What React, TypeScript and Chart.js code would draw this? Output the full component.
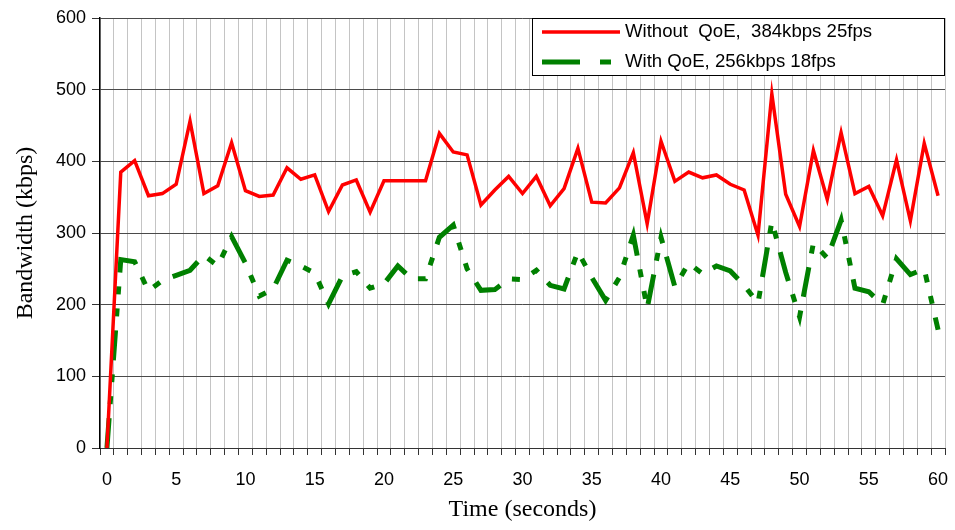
import React, { useEffect, useRef } from 'react';
import { Chart, registerables } from 'chart.js';

Chart.register(...registerables);

const timeLabels = [
  0, 1, 2, 3, 4, 5, 6, 7, 8, 9, 10, 11, 12, 13, 14, 15, 16, 17, 18, 19, 20,
  21, 22, 23, 24, 25, 26, 27, 28, 29, 30, 31, 32, 33, 34, 35, 36, 37, 38, 39, 40,
  41, 42, 43, 44, 45, 46, 47, 48, 49, 50, 51, 52, 53, 54, 55, 56, 57, 58, 59, 60,
];

const withoutQoE = [
  0, 385, 401, 352, 355, 368, 456, 355, 366, 426, 359, 351, 353, 391, 375, 381,
  330, 367, 374, 329, 373, 373, 373, 373, 439, 413, 409, 339, 360, 379, 355,
  379, 338, 362, 418, 343, 342, 363, 412, 313, 428, 372, 385, 377, 381, 368,
  360, 297, 494, 354, 309, 415, 347, 440, 355, 365, 324, 402, 317, 425, 352,
];

const withQoE = [
  0, 263, 260, 219, 234, 241, 248, 269, 254, 295, 258, 212, 222, 262, 254, 244,
  201, 240, 246, 223, 229, 254, 236, 236, 294, 311, 250, 220, 221, 236, 235,
  248, 227, 222, 274, 238, 206, 238, 297, 195, 294, 225, 258, 243, 254, 247,
  227, 202, 316, 245, 183, 286, 265, 318, 223, 218, 200, 264, 242, 250, 165,
];

const seriesNames = ['Without  QoE,  384kbps 25fps', 'With QoE, 256kbps 18fps'];
const yMin = 0;
const yMax = 600;
const yStep = 100;

const RED = '#ff0000';
const GREEN = '#008000';
const GREEN_DASH = [30, 14, 8, 14, 8, 14];

export default function App() {
  const ref = useRef<HTMLCanvasElement | null>(null);

  useEffect(() => {
    if (!ref.current) return;

    const legendPlugin = {
      id: 'boxLegend',
      afterDraw(chart: any) {
        const ctx = chart.ctx as CanvasRenderingContext2D;
        ctx.save();
        ctx.fillStyle = '#ffffff';
        ctx.fillRect(532, 18, 412, 57);
        ctx.strokeStyle = '#000000';
        ctx.lineWidth = 1;
        ctx.strokeRect(532.5, 18.5, 412, 57);

        // red sample
        ctx.strokeStyle = RED;
        ctx.lineWidth = 3.5;
        ctx.setLineDash([]);
        ctx.beginPath();
        ctx.moveTo(542, 32);
        ctx.lineTo(620, 32);
        ctx.stroke();

        // green sample
        ctx.strokeStyle = GREEN;
        ctx.lineWidth = 5;
        ctx.setLineDash([38, 20, 11, 20]);
        ctx.beginPath();
        ctx.moveTo(542, 62);
        ctx.lineTo(620, 62);
        ctx.stroke();
        ctx.setLineDash([]);

        ctx.fillStyle = '#000000';
        ctx.font = '18.6px "Liberation Sans", Arial, sans-serif';
        ctx.textBaseline = 'middle';
        ctx.textAlign = 'left';
        ctx.fillText(seriesNames[0], 625, 32);
        ctx.fillText(seriesNames[1], 625, 62);
        ctx.restore();
      },
    };

    const chart = new Chart(ref.current, {
      type: 'line',
      data: {
        labels: timeLabels.map(String),
        datasets: [
          {
            label: seriesNames[0],
            data: withoutQoE,
            borderColor: RED,
            backgroundColor: RED,
            borderWidth: 3.5,
            pointRadius: 0,
            tension: 0,
            fill: false,
          },
          {
            label: seriesNames[1],
            data: withQoE,
            borderColor: GREEN,
            backgroundColor: GREEN,
            borderWidth: 5,
            borderDash: GREEN_DASH,
            borderCapStyle: 'butt',
            pointRadius: 0,
            tension: 0,
            fill: false,
          },
        ],
      },
      options: {
        animation: false,
        responsive: false,
        maintainAspectRatio: false,
        layout: { padding: { top: 18, right: 10, left: 0, bottom: 0 } },
        plugins: {
          legend: { display: false },
          tooltip: { enabled: false },
        },
        scales: {
          x: {
            type: 'category',
            offset: true,
            grid: {
              offset: true,
              color: '#c4c4c4',
              lineWidth: 1,
              tickColor: '#333333',
              tickLength: 7,
              drawTicks: true,
            },
            border: { display: true, color: '#333333', width: 1 },
            ticks: {
              autoSkip: false,
              maxRotation: 0,
              minRotation: 0,
              color: '#000000',
              padding: 14,
              font: { family: '"Liberation Sans", Arial, sans-serif', size: 18 },
              callback: (_v: any, i: number) => (i % 5 === 0 ? String(timeLabels[i]) : ''),
            },
            title: {
              display: true,
              text: 'Time (seconds)',
              color: '#000000',
              font: { family: '"Liberation Serif", "Times New Roman", serif', size: 24 },
              padding: { top: 0, bottom: 6 },
            },
            afterFit: (s: any) => {
              s.height = 82;
              s.paddingLeft = 0;
              s.paddingRight = 0;
            },
          },
          y: {
            min: yMin,
            max: yMax,
            grid: {
              color: '#4a4a4a',
              lineWidth: 1,
              tickColor: '#333333',
              tickLength: 8,
            },
            border: { display: true, color: '#000000', width: 1.5 },
            ticks: {
              stepSize: yStep,
              color: '#000000',
              padding: 6,
              font: { family: '"Liberation Sans", Arial, sans-serif', size: 18 },
            },
            title: {
              display: true,
              text: 'Bandwidth (kbps)',
              color: '#000000',
              font: { family: '"Liberation Serif", "Times New Roman", serif', size: 24 },
              padding: { top: 11, bottom: 0 },
            },
            afterFit: (s: any) => {
              s.width = 100;
            },
          },
        },
      },
      plugins: [legendPlugin],
    } as any);

    return () => chart.destroy();
  }, []);

  return (
    <div style={{ position: 'fixed', left: 0, top: 0, width: 955, height: 530, background: '#ffffff' }}>
      <canvas ref={ref} width={955} height={530} style={{ width: 955, height: 530, display: 'block' }} />
    </div>
  );
}
